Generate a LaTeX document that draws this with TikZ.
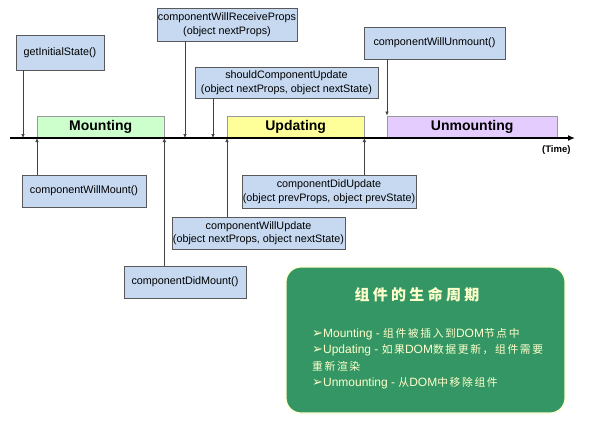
\documentclass[tikz,border=0pt]{standalone}
\usepackage{fontspec}
\setmainfont{Liberation Sans}
\newfontfamily\cjk[LetterSpace=15]{Noto Sans CJK SC}
\newfontfamily\cjktitle[LetterSpace=22]{Noto Sans CJK SC}
\newfontfamily\dingfont{DejaVu Sans}
\usetikzlibrary{positioning,arrows.meta}
\definecolor{evblue}{RGB}{198,217,241}
\definecolor{mountgreen}{RGB}{204,255,204}
\definecolor{updyellow}{RGB}{255,255,153}
\definecolor{unmpurple}{RGB}{229,204,255}
\definecolor{lcgreen}{RGB}{51,150,100}
\definecolor{paleyellow}{RGB}{255,255,204}
\newcommand{\zh}[1]{{\cjk\fontsize{10.8}{16.5}\selectfont #1}}
\newcommand{\bul}{{\dingfont\fontsize{13}{16.5}\selectfont\bfseries ➢}}

\begin{document}
\begin{tikzpicture}[x=1pt,y=-1pt,
    evbox/.style={draw=black!65,fill=evblue,inner sep=1pt,align=center,
      font=\fontsize{10.8}{13.5}\selectfont},
    phase/.style={draw=black!40,minimum height=22pt,inner sep=0pt,
      font=\fontsize{14}{14}\selectfont\bfseries},
    evarrow/.style={draw=black!75,line width=0.6pt,-{Latex[length=4pt,width=3.5pt]}}]
  \useasboundingbox (0,0) rectangle (596,425);
  % phases on the time line
  \node[phase,fill=mountgreen,minimum width=127pt,anchor=south west] (mnt) at (37,138) {Mounting};
  \node[phase,fill=updyellow,minimum width=137pt,anchor=south west] (upd) at (227,138) {Updating};
  \node[phase,fill=unmpurple,minimum width=170pt,anchor=south west] (unm) at (387,138) {Unmounting};
  \coordinate (tl0) at (10,138);
  \coordinate (tl1) at (575,138);
  \draw[line width=1.6pt,-{Latex[length=7pt,width=6pt]}] (tl0) -- (tl1);
  \node[font=\fontsize{9.5}{9.5}\selectfont\bfseries,anchor=east] (time) at (574,150) {(Time)};
  % events above
  \node[evbox,minimum width=88pt,minimum height=35pt] (gis) at (60,52.5) {getInitialState()};
  \node[evbox,minimum width=140pt,minimum height=33pt] (wrp) at (227,24.5) {componentWillReceiveProps\\(object nextProps)};
  \node[evbox,minimum width=183pt,minimum height=31pt] (scu) at (286.5,82.5) {shouldComponentUpdate\\(object nextProps, object nextState)};
  \node[evbox,minimum width=141pt,minimum height=32pt] (wun) at (434.5,43) {componentWillUnmount()};
  \coordinate (gisT) at (23,138);
  \coordinate (wrpT) at (185,138);
  \coordinate (scuT) at (213,138);
  \draw[evarrow] (gis.south -| gisT) -- (gisT);
  \draw[evarrow] (wrp.south -| wrpT) -- (wrpT);
  \draw[evarrow] (scu.south -| scuT) -- (scuT);
  \draw[evarrow] (wun.south -| unm.north west) -- (unm.north west);
  % events below
  \node[evbox,minimum width=124pt,minimum height=32pt] (wmt) at (84,191) {componentWillMount()};
  \node[evbox,minimum width=122pt,minimum height=32pt] (dmt) at (185,282) {componentDidMount()};
  \node[evbox,minimum width=173pt,minimum height=32pt] (wup) at (258.5,233) {componentWillUpdate\\(object nextProps, object nextState)};
  \node[evbox,minimum width=174pt,minimum height=33pt] (dup) at (329,191.5) {componentDidUpdate\\(object prevProps, object prevState)};
  \draw[evarrow] (wmt.north -| mnt.south west) -- (mnt.south west);
  \draw[evarrow] (dmt.north -| mnt.south east) -- (mnt.south east);
  \draw[evarrow] (wup.north -| upd.south west) -- (upd.south west);
  \draw[evarrow] (dup.north -| upd.south east) -- (upd.south east);
  % life cycle note
  \node[draw=paleyellow,line width=1.2pt,fill=lcgreen,rounded corners=15pt,
    minimum width=279pt,minimum height=146pt] (life) at (425.5,340) {};
  \node[text=paleyellow,font=\cjktitle\fontsize{15}{15}\selectfont\bfseries] (lifetitle) at (417,295) {组件的生命周期};
  \node[text=paleyellow,align=left,anchor=west,inner sep=0pt,
    font=\fontsize{12}{16.5}\selectfont] (lifetext) at (312,358.5)
    {\bul Mounting - \zh{组件被插入到}DOM\zh{节点中}\\
     \bul Updating - \zh{如果}DOM\zh{数据更新，组件需要}\\
     \zh{重新渲染}\\
     \bul Unmounting - \zh{从}DOM\zh{中移除组件}};
\end{tikzpicture}
\end{document}
